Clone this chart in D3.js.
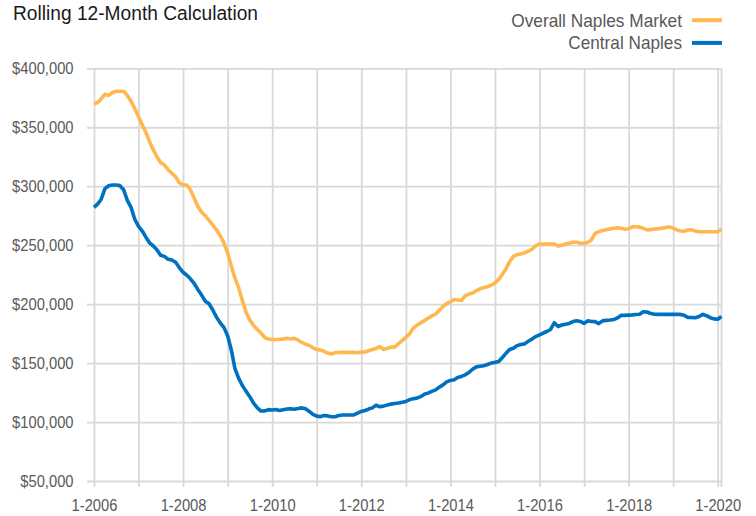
<!DOCTYPE html>
<html>
<head>
<meta charset="utf-8">
<script src="https://cdn.jsdelivr.net/npm/d3@7"></script>
<style>
  html, body { margin: 0; padding: 0; background: #ffffff; }
  svg { display: block; font-family: "Liberation Sans", Arial, Helvetica, sans-serif; }
</style>
</head>
<body>
<svg id="chart" width="756" height="516"></svg>
<script>
// Rolling 12-month median sale price, in $ thousands, monthly from Jan 2006 to Feb 2020
const firstMonth = new Date(2006, 0, 1);

const overallNaples = [
  370, 371, 374, 378, 377, 379.5, 380.5, 380.5, 380.5, 377, 372, 366,           // 2006
  359, 352, 346, 338, 331, 325, 320, 318, 314, 311, 308, 303,                   // 2007
  301, 301, 297, 290, 283, 278, 275, 271, 267, 263, 258, 252,                   // 2008
  243, 232, 222, 214, 203, 193, 186.5, 182, 178.5, 175.5, 171.5, 170.5,         // 2009
  170, 170, 170, 170.5, 171, 170.4, 171, 169.5, 167.5, 166, 165, 163,           // 2010
  161.5, 161, 160, 158.5, 157.7, 158.8, 159, 159.1, 159.1, 159.1, 159.1, 158.8, // 2011
  159.3, 159.4, 160.5, 161.5, 162.3, 164, 161.5, 162.5, 163.5, 163.5, 166.5, 169, // 2012
  172, 175, 179.5, 182, 184, 186, 188, 190, 191.5, 194.5, 198, 200.5,           // 2013
  202, 204, 203.5, 203, 207, 208.5, 209.5, 211.4, 213, 214, 214.8, 216,         // 2014
  218, 221, 225, 230, 236, 240.5, 242, 242.5, 243.5, 245, 246.5, 249.5,         // 2015
  251, 251, 251, 251, 251, 249.3, 250, 251, 251.6, 252.5, 252.5, 251.6,         // 2016
  251.6, 252.5, 254.4, 260, 261.5, 262.5, 263, 263.8, 264.3, 264.8, 264.3, 263.5, // 2017
  264, 265.6, 265.6, 265.3, 264.3, 263, 263.2, 263.7, 264, 264.3, 265, 265.5,   // 2018
  264.5, 263, 262, 261.8, 262.9, 263, 262, 261.4, 261.4, 261.4, 261.4, 261.4,   // 2019
  261.4, 263.5                                                                  // 2020
];

const centralNaples = [
  282, 285, 289, 298, 300.4, 301, 301, 300.5, 297, 288, 282, 272,               // 2006
  266, 262, 257, 252, 249.5, 246, 241.5, 240.5, 238, 237.4, 235.5, 231,         // 2007
  227, 224.5, 221.5, 217.5, 212.5, 207.7, 202.5, 200.3, 195, 189, 184, 180.3,   // 2008
  173, 160.5, 145.5, 137, 131, 126, 121.5, 116, 112, 109.3, 109.5, 110.5,       // 2009
  110.2, 110.6, 109.8, 110.5, 111, 111.2, 110.8, 111.4, 112, 111.2, 109, 106.5, // 2010
  105, 104.6, 105.5, 105.2, 104.5, 104.5, 105.5, 106, 106, 106, 106, 107.5,     // 2011
  109, 109.8, 111, 112, 114.2, 113, 113.5, 114.4, 115.2, 115.7, 116.2, 116.8,   // 2012
  117.5, 119, 119.8, 120.3, 121.5, 123.5, 124.5, 126, 127.3, 129.5, 131.5, 134, // 2013
  135.3, 135.8, 137.7, 138.7, 140, 142, 144.8, 146.8, 147.3, 147.8, 148.8, 150, // 2014
  150.6, 151.3, 154.5, 158.3, 161.5, 162.6, 164.8, 165.8, 166.3, 168.5, 170.5, 172.5, // 2015
  174, 175.5, 176.8, 178.5, 184.2, 181, 182.3, 183, 183.6, 185.2, 185.9, 185.3, // 2016
  183.7, 185.8, 185.3, 185.2, 183.5, 185.8, 186.2, 186.5, 186.9, 188.3, 190.5, 190.5, // 2017
  190.7, 190.9, 191.2, 191.4, 193.5, 193.3, 192, 191.4, 191.3, 191.3, 191.3, 191.3, // 2018
  191.3, 191.3, 191.3, 190.5, 188.8, 188.7, 188.5, 189.5, 191.3, 190.2, 188.5, 187.5, // 2019
  187.2, 189.5                                                                  // 2020
];

const seriesNames  = ["Overall Naples Market", "Central Naples"];
const seriesColors = ["#FFB84F", "#0070C0"];
const yTickValues  = [50, 100, 150, 200, 250, 300, 350, 400];
const labelYears   = [2006, 2008, 2010, 2012, 2014, 2016, 2018, 2020];
const titleText    = "Rolling 12-Month Calculation";

// ---- layout ----
const plot = { left: 94, right: 721.5, top: 68.3, bottom: 481 };
const gridColor = "#d9d9d9";
const textColor = "#595959";

const svg = d3.select("#chart");

const months = d3.range(overallNaples.length).map(i => d3.timeMonth.offset(firstMonth, i));
const x = d3.scaleTime()
  .domain([months[0], months[months.length - 1]])
  .range([plot.left, plot.right]);
const y = d3.scaleLinear()
  .domain([50, 400])
  .range([plot.bottom, plot.top]);

const yearTicks = d3.timeYear.range(firstMonth, d3.timeYear.offset(months[months.length - 1], 1));

// narrow the axis text a little, giving a condensed face
function condense(selection, factor) {
  selection.each(function () {
    const w = this.getComputedTextLength();
    d3.select(this).attr("textLength", w * factor).attr("lengthAdjust", "spacingAndGlyphs");
  });
}

// horizontal gridlines with short ticks on the left
const yGrid = svg.append("g")
  .attr("transform", `translate(${plot.left},0)`)
  .call(d3.axisLeft(y).tickValues(yTickValues).tickSize(-(plot.right - plot.left)).tickFormat(""));
yGrid.select(".domain").remove();
yGrid.selectAll(".tick line").attr("stroke", gridColor).attr("stroke-width", 1.8).attr("x1", -7);

// vertical yearly gridlines that extend below the axis as tick marks
const xGrid = svg.append("g")
  .attr("transform", `translate(0,${plot.bottom})`)
  .call(d3.axisBottom(x).tickValues(yearTicks).tickSize(-(plot.bottom - plot.top)).tickFormat(""));
xGrid.select(".domain").remove();
xGrid.selectAll(".tick line").attr("stroke", gridColor).attr("stroke-width", 1.8).attr("y1", 6);

// right-hand plot edge
svg.append("line")
  .attr("x1", x(months[months.length - 1])).attr("x2", x(months[months.length - 1]))
  .attr("y1", plot.top).attr("y2", plot.bottom + 6)
  .attr("stroke", gridColor).attr("stroke-width", 1.8);

// y-axis labels
const yAxis = svg.append("g")
  .attr("transform", `translate(${plot.left},0)`)
  .call(d3.axisLeft(y).tickValues(yTickValues).tickSize(7).tickPadding(13.5)
    .tickFormat(d => d3.format("$,")(d * 1000)));
yAxis.select(".domain").remove();
yAxis.selectAll(".tick line").remove();
yAxis.selectAll("text").attr("fill", textColor).style("font-size", "16px")
  .attr("font-family", null).call(condense, 0.92);

// x-axis labels (every second year)
const xAxis = svg.append("g")
  .attr("transform", `translate(0,${plot.bottom})`)
  .call(d3.axisBottom(x).tickValues(labelYears.map(yr => new Date(yr, 0, 1))).tickSize(6).tickPadding(13)
    .tickFormat(d => `1-${d.getFullYear()}`));
xAxis.select(".domain").remove();
xAxis.selectAll(".tick line").remove();
xAxis.selectAll("text").attr("fill", textColor).style("font-size", "16px")
  .attr("font-family", null).call(condense, 0.92);

// series lines
const line = d3.line()
  .x((d, i) => x(months[i]))
  .y(d => y(d));

[overallNaples, centralNaples].forEach((values, k) => {
  svg.append("path")
    .datum(values)
    .attr("fill", "none")
    .attr("stroke", seriesColors[k])
    .attr("stroke-width", 3.6)
    .attr("stroke-linejoin", "round")
    .attr("stroke-linecap", "butt")
    .attr("d", line);
});

// title
svg.append("text")
  .attr("x", 13).attr("y", 19.5)
  .attr("fill", "#1a1a1a")
  .style("font-size", "19.5px")
  .attr("textLength", 245).attr("lengthAdjust", "spacingAndGlyphs")
  .text(titleText);

// legend
const legend = svg.append("g");
const legendBaselines = [26.5, 49.2];
const legendWidths = [170.7, 113.7];
seriesNames.forEach((name, k) => {
  legend.append("text")
    .attr("x", 682).attr("y", legendBaselines[k])
    .attr("text-anchor", "end")
    .attr("fill", textColor)
    .style("font-size", "19px")
    .attr("textLength", legendWidths[k]).attr("lengthAdjust", "spacingAndGlyphs")
    .text(name);
  legend.append("line")
    .attr("x1", 692).attr("x2", 722)
    .attr("y1", legendBaselines[k] - 6.3).attr("y2", legendBaselines[k] - 6.3)
    .attr("stroke", seriesColors[k]).attr("stroke-width", 4);
});
</script>
</body>
</html>
